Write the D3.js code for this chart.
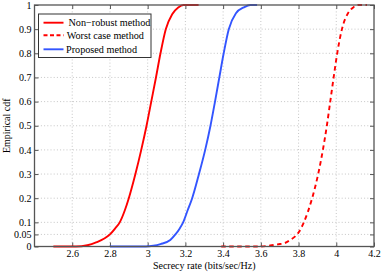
<!DOCTYPE html>
<head>
    <meta charset="utf-8">
    <title>Empirical cdf</title>
    <style>
        body { margin: 0; background: #fff; }
        svg text { font-family: "Liberation Serif", "Times New Roman", serif; fill: #000; }
        .grid line { stroke: #b8b8b8; stroke-width: 0.8; stroke-dasharray: 1,2.2; }
        .frame { fill: none; stroke: #555; stroke-width: 1.3; }
        .tick-mark { stroke: #555; stroke-width: 1; }
        .curve { fill: none; stroke-width: 1.9; }
    </style>
</head>
<body>
    <svg width="382" height="273"></svg>
    <script src="https://d3js.org/d3.v7.min.js"></script>
    <script>

    // secrecy rate samples (bits/sec/Hz) and cdf values
    var nonRobustX = [2.50, 2.62, 2.68, 2.73, 2.77, 2.80, 2.828, 2.852, 2.879, 2.90, 2.935, 2.966, 2.994, 3.019, 3.044, 3.068, 3.096, 3.13, 3.162, 3.19, 3.27];
    var nonRobustP = [0, 0, 0.005, 0.018, 0.033, 0.05, 0.075, 0.10, 0.15, 0.20, 0.30, 0.40, 0.50, 0.60, 0.70, 0.80, 0.90, 0.962, 0.99, 1, 1];

    var worstCaseX = [3.39, 3.60, 3.65, 3.69, 3.726, 3.756, 3.782, 3.80, 3.828, 3.872, 3.904, 3.929, 3.95, 3.968, 3.986, 4.005, 4.03, 4.062, 4.09, 4.115, 4.163];
    var worstCaseP = [0, 0, 0.004, 0.009, 0.014, 0.027, 0.042, 0.058, 0.10, 0.20, 0.30, 0.40, 0.50, 0.60, 0.70, 0.80, 0.90, 0.966, 0.99, 1, 1];

    var proposedX = [2.80, 2.99, 3.03, 3.068, 3.12, 3.147, 3.17, 3.188, 3.212, 3.236, 3.272, 3.305, 3.333, 3.357, 3.38, 3.403, 3.43, 3.468, 3.51, 3.544, 3.58];
    var proposedP = [0, 0, 0.003, 0.01, 0.027, 0.05, 0.075, 0.10, 0.15, 0.20, 0.30, 0.40, 0.50, 0.60, 0.70, 0.80, 0.90, 0.966, 0.99, 1, 1];

    var xTicks = [2.6, 2.8, 3, 3.2, 3.4, 3.6, 3.8, 4, 4.2];
    var yTicks = [0, 0.05, 0.1, 0.2, 0.3, 0.4, 0.5, 0.6, 0.7, 0.8, 0.9, 1];

    var legendNames = ["Non\u2212robust method", "Worst case method", "Proposed method"];

    var svg = d3.select("svg"),
        margin = {top: 5, right: 8, bottom: 26.5, left: 34.5},
        width = +svg.attr("width") - margin.left - margin.right,
        height = +svg.attr("height") - margin.top - margin.bottom,
        g = svg.append("g").attr("transform", "translate(" + margin.left + "," + margin.top + ")");

    var x = d3.scaleLinear().domain([2.4, 4.2]).range([0, width]);
    var y = d3.scaleLinear().domain([0, 1]).range([height, 0]);

    // dotted grid
    var grid = g.append("g").attr("class", "grid");
    grid.selectAll(".gx").data(xTicks.filter(function(d) { return d < 4.2; }))
        .enter().append("line")
        .attr("x1", function(d) { return x(d); }).attr("x2", function(d) { return x(d); })
        .attr("y1", 0).attr("y2", height);
    grid.selectAll(".gy").data(yTicks.filter(function(d) { return d > 0 && d < 1; }))
        .enter().append("line")
        .attr("y1", function(d) { return y(d); }).attr("y2", function(d) { return y(d); })
        .attr("x1", 0).attr("x2", width);

    // axes with inward ticks (bottom/left labelled, top/right bare)
    var tickLen = 4;
    var xb = g.append("g").attr("transform", "translate(0," + height + ")")
        .call(d3.axisBottom(x).tickValues(xTicks).tickSize(-tickLen).tickPadding(3.5).tickFormat(d3.format("")));
    var xt = g.append("g")
        .call(d3.axisTop(x).tickValues(xTicks).tickSize(-tickLen).tickFormat(""));
    var yl = g.append("g")
        .call(d3.axisLeft(y).tickValues(yTicks).tickSize(-tickLen).tickPadding(3).tickFormat(d3.format("")));
    var yr = g.append("g").attr("transform", "translate(" + width + ",0)")
        .call(d3.axisRight(y).tickValues(yTicks).tickSize(-tickLen).tickFormat(""));

    [xb, xt, yl, yr].forEach(function(a) {
        a.select(".domain").remove();
        a.selectAll(".tick line").attr("class", "tick-mark");
        a.selectAll("text").style("font-family", "Liberation Serif").style("font-size", "10px").attr("fill", "#000");
    });

    // curves
    var line = d3.line()
        .x(function(d) { return x(d[0]); })
        .y(function(d) { return y(d[1]); })
        .curve(d3.curveMonotoneX);

    var series = [
        {pts: d3.zip(nonRobustX, nonRobustP), color: "#ff0000", dash: null},
        {pts: d3.zip(worstCaseX, worstCaseP), color: "#ff0000", dash: "4.5,3.5"},
        {pts: d3.zip(proposedX, proposedP), color: "#3355ff", dash: null}
    ];

    g.selectAll(".curve").data(series)
        .enter().append("path")
        .attr("class", "curve")
        .attr("d", function(d) { return line(d.pts); })
        .attr("stroke", function(d) { return d.color; })
        .attr("stroke-dasharray", function(d) { return d.dash; });

    // frame
    g.append("rect").attr("class", "frame").attr("width", width).attr("height", height);

    // legend
    var lg = svg.append("g").attr("transform", "translate(38.5,14)");
    lg.append("rect").attr("width", 112.5).attr("height", 43.5)
        .attr("fill", "#fff").attr("stroke", "#333").attr("stroke-width", 1);
    var rowY = [8.7, 21.3, 35.3];
    var textX = [30, 28.2, 27.5];
    var rows = lg.selectAll(".row").data(series)
        .enter().append("g");
    rows.append("line")
        .attr("x1", 5).attr("x2", 25)
        .attr("y1", function(d, i) { return rowY[i]; }).attr("y2", function(d, i) { return rowY[i]; })
        .attr("stroke", function(d) { return d.color; })
        .attr("stroke-width", 1.9)
        .attr("stroke-dasharray", function(d) { return d.dash ? "4,2.5" : null; });
    rows.append("text")
        .attr("x", function(d, i) { return textX[i]; })
        .attr("y", function(d, i) { return rowY[i] + 3.5; })
        .style("font-size", "10.2px")
        .text(function(d, i) { return legendNames[i]; });

    // axis titles
    svg.append("text")
        .attr("x", margin.left + width / 2).attr("y", 268.5)
        .attr("text-anchor", "middle").style("font-size", "10px")
        .text("Secrecy rate (bits/sec/Hz)");
    svg.append("text")
        .attr("transform", "translate(10," + (margin.top + height / 2) + ") rotate(-90)")
        .attr("text-anchor", "middle").style("font-size", "10px")
        .text("Empirical cdf");

    </script>
</body>
</html>
